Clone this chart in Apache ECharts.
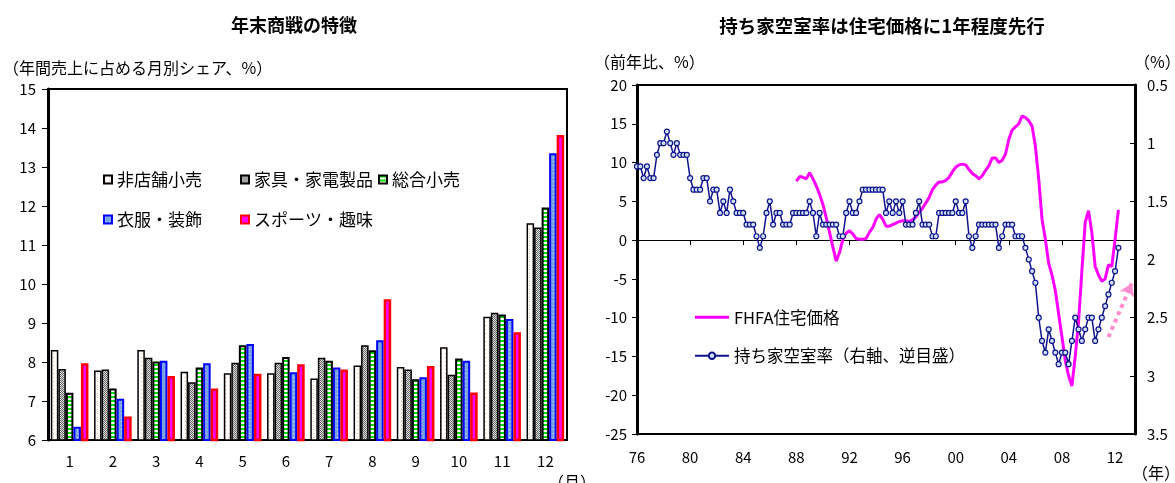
<!DOCTYPE html>
<html>
<head>
<meta charset="utf-8">
<script src="https://cdn.jsdelivr.net/npm/echarts@6/dist/echarts.min.js"></script>
<style>
  html, body { margin: 0; padding: 0; background: #fff; }
  #main { width: 1175px; height: 483px; }
</style>
</head>
<body>
<div id="main"></div>
<script>
// 左：年末商戦の特徴（年間売上に占める月別シェア、%）
var months = ['1', '2', '3', '4', '5', '6', '7', '8', '9', '10', '11', '12']
var nonStore = [8.31, 7.78, 8.31, 7.75, 7.71, 7.71, 7.58, 7.91, 7.87, 8.38, 9.16, 11.56] // 非店舗小売
var furniture = [7.82, 7.81, 8.11, 7.48, 7.98, 7.98, 8.11, 8.43, 7.81, 7.67, 9.26, 11.45] // 家具・家電製品
var general = [7.21, 7.32, 8.01, 7.86, 8.43, 8.13, 8.03, 8.30, 7.56, 8.09, 9.22, 11.96] // 総合小売
var clothing = [6.34, 7.06, 8.03, 7.97, 8.46, 7.74, 7.86, 8.56, 7.61, 8.03, 9.10, 13.35] // 衣服・装飾
var sports = [7.97, 6.60, 7.64, 7.32, 7.70, 7.94, 7.81, 9.61, 7.90, 7.22, 8.76, 13.82] // スポーツ・趣味

// 右：四半期（1976Q1〜）
var firstYear = 1976
var quarterCount = 151
// 持ち家空室率（%、右軸・逆目盛） 1976Q1〜
var vacancy = [
    1.2, 1.2, 1.3, 1.2, 1.3, 1.3, 1.1, 1.0, 1.0, 0.9, 1.0, 1.1, 1.0, 1.1, 1.1, 1.1,
    1.3, 1.4, 1.4, 1.4, 1.3, 1.3, 1.5, 1.4, 1.4, 1.6, 1.5, 1.6, 1.4, 1.5, 1.6, 1.6, 1.6, 1.7, 1.7, 1.7,
    1.8, 1.9, 1.8, 1.6, 1.5, 1.7, 1.6, 1.6, 1.7, 1.7, 1.7,
    1.6, 1.6, 1.6, 1.6, 1.6, 1.5, 1.6, 1.8, 1.6,
    1.7, 1.7, 1.7, 1.7, 1.7, 1.8, 1.8, 1.6, 1.5, 1.6, 1.6, 1.5,
    1.4, 1.4, 1.4, 1.4, 1.4, 1.4, 1.4,
    1.6, 1.5, 1.6, 1.5, 1.6, 1.5,
    1.7, 1.7, 1.7, 1.6, 1.5, 1.7, 1.7, 1.7, 1.8, 1.8,
    1.6, 1.6, 1.6, 1.6, 1.6, 1.5, 1.6, 1.6, 1.5,
    1.8, 1.9, 1.8, 1.7, 1.7, 1.7, 1.7, 1.7, 1.7, 1.9, 1.8,
    1.7, 1.7, 1.7, 1.8, 1.8, 1.8, 1.9, 2.0, 2.1, 2.2,
    2.5, 2.7, 2.8, 2.6, 2.7, 2.8, 2.9, 2.8, 2.8, 2.9,
    2.7, 2.5, 2.6, 2.7, 2.6, 2.5, 2.5, 2.7, 2.6, 2.5,
    2.4, 2.3, 2.2, 2.1, 1.9
]
// FHFA住宅価格（前年比、%） 1988Q1〜
var fhfaStart = 48
var fhfa = [
    7.6, 8.2, 8.1, 7.9, 8.7, 7.9, 7.0, 5.9, 4.6, 2.9, 1.0, -0.9,
    -2.7, -1.6, 0.1, 0.9, 1.2, 0.8, 0.2, 0.1, 0.1, 0.2, 1.0, 1.6,
    2.7, 3.3, 2.7, 1.8, 1.8, 2.0, 2.2, 2.4, 2.5, 2.5, 2.4, 2.6,
    3.0, 3.6, 4.1, 4.8, 5.5, 6.5, 7.1, 7.5, 7.5, 7.7, 8.1, 8.8,
    9.4, 9.7, 9.8, 9.7, 9.1, 8.6, 8.3, 7.9, 8.3, 9.0, 9.6, 10.6,
    10.6, 10.0, 10.3, 11.1, 13.0, 14.2, 14.6, 15.0, 16.0, 15.8, 15.4, 14.7,
    12.1, 7.9, 2.7, 0.1, -3.0, -4.5, -6.5, -9.5, -12.5, -15.5, -17.5, -18.8,
    -15.0, -10.5, -4.0, 2.3, 3.8, 1.0, -3.4, -4.5, -5.3, -5.0, -3.2, -3.4,
    0.1, 3.9
]

var quarters = []
for (var i = 0; i < quarterCount; i++) {
    quarters.push((firstYear + Math.floor(i / 4)) + 'Q' + (i % 4 + 1))
}
var fhfaData = quarters.map(function (q, i) {
    var k = i - fhfaStart
    return k >= 0 && k < fhfa.length ? fhfa[k] : null
})

var jp = '"Noto Sans CJK JP", sans-serif'
var num = '"Liberation Sans Narrow", "Noto Sans CJK JP", sans-serif'

// 棒グラフの模様
function pattern(w, h, draw) {
    var c = document.createElement('canvas')
    c.width = w
    c.height = h
    draw(c.getContext('2d'))
    return { image: c, repeat: 'repeat' }
}
var patNonStore = pattern(4, 4, function (g) {
    g.fillStyle = '#fff'; g.fillRect(0, 0, 4, 4)
    g.fillStyle = '#f4b080'; g.fillRect(1, 1, 1, 1)
})
var patFurniture = pattern(2, 2, function (g) {
    g.fillStyle = '#d8d8d8'; g.fillRect(0, 0, 2, 2)
    g.fillStyle = '#707070'; g.fillRect(0, 0, 1, 1); g.fillRect(1, 1, 1, 1)
})
var patGeneral = pattern(4, 4, function (g) {
    g.fillStyle = '#fff'; g.fillRect(0, 0, 4, 4)
    g.fillStyle = '#00dd00'; g.fillRect(0, 0, 4, 2)
})
var patClothing = pattern(4, 4, function (g) {
    g.fillStyle = '#78a4e0'; g.fillRect(0, 0, 4, 4)
    g.fillStyle = '#c8dcf6'; g.fillRect(1, 1, 1, 1)
})

function bar(name, data, fill, border, bw) {
    return {
        name: name,
        type: 'bar',
        xAxisIndex: 0,
        yAxisIndex: 0,
        data: data,
        barGap: '0%',
        barCategoryGap: '13%',
        itemStyle: { color: fill, borderColor: border, borderWidth: bw }
    }
}

function barLegend(name, left, top) {
    return {
        data: [name],
        left: left,
        top: top,
        padding: 0,
        icon: 'rect',
        itemWidth: 8,
        itemHeight: 8,
        itemGap: 0,
        textStyle: { fontFamily: jp, fontSize: 17, color: '#000' }
    }
}

var chart = echarts.init(document.getElementById('main'))
chart.setOption({
    animation: false,
    grid: [
        { left: 48, top: 89, width: 519, height: 351, show: true, borderColor: '#000', borderWidth: 2 },
        { left: 637, top: 85, width: 498, height: 349, show: true, borderColor: '#000', borderWidth: 2 }
    ],
    legend: [
        barLegend('非店舗小売', 103, 171),
        barLegend('家具・家電製品', 240, 171),
        barLegend('総合小売', 378, 171),
        barLegend('衣服・装飾', 103, 211),
        barLegend('スポーツ・趣味', 240, 211),
        {
            data: [
                { name: 'FHFA住宅価格', icon: 'path://M0 0H34V3H0Z' },
                '持ち家空室率（右軸、逆目盛）'
            ],
            orient: 'vertical',
            left: 694,
            top: 309,
            padding: 0,
            itemGap: 22,
            itemWidth: 34,
            itemHeight: 8,
            textStyle: { fontFamily: jp, fontSize: 16.5, color: '#000' }
        }
    ],
    xAxis: [
        {
            gridIndex: 0,
            type: 'category',
            data: months,
            axisLine: { lineStyle: { color: '#000', width: 2 } },
            axisTick: { length: 5, lineStyle: { color: '#000' } },
            axisLabel: { margin: 14, fontFamily: num, fontSize: 15, color: '#000' }
        },
        {
            gridIndex: 1,
            type: 'category',
            data: quarters,
            boundaryGap: false,
            position: 'bottom',
            axisLine: { onZero: false, lineStyle: { color: '#000', width: 2 } },
            axisTick: { show: false },
            axisLabel: {
                interval: 15,
                margin: 16,
                fontFamily: num,
                fontSize: 15,
                color: '#000',
                formatter: function (v) { return v.slice(2, 4) }
            }
        },
        {
            gridIndex: 1,
            type: 'category',
            data: quarters,
            boundaryGap: false,
            position: 'top',
            axisLine: { onZero: true, onZeroAxisIndex: 1, lineStyle: { color: '#000', width: 1 } },
            axisTick: { inside: true, interval: 15, length: 5, lineStyle: { color: '#000' } },
            axisLabel: { show: false }
        }
    ],
    yAxis: [
        {
            gridIndex: 0,
            type: 'value',
            min: 6,
            max: 15,
            interval: 1,
            splitLine: { show: false },
            axisLine: { show: true, lineStyle: { color: '#000', width: 3 } },
            axisTick: { show: true, length: 6, lineStyle: { color: '#000' } },
            axisLabel: { margin: 12, fontFamily: num, fontSize: 15, color: '#000' }
        },
        {
            gridIndex: 1,
            type: 'value',
            min: -25,
            max: 20,
            interval: 5,
            splitLine: { show: false },
            axisLine: { show: true, onZero: false, lineStyle: { color: '#000', width: 3 } },
            axisTick: { show: true, length: 5, lineStyle: { color: '#000' } },
            axisLabel: { margin: 10, fontFamily: num, fontSize: 15, color: '#000' }
        },
        {
            gridIndex: 1,
            type: 'value',
            position: 'right',
            inverse: true,
            min: 0.5,
            max: 3.5,
            interval: 0.5,
            splitLine: { show: false },
            axisLine: { show: true, onZero: false, lineStyle: { color: '#000', width: 3 } },
            axisTick: { show: true, inside: true, length: 5, lineStyle: { color: '#000' } },
            axisLabel: { margin: 12, fontFamily: num, fontSize: 15, color: '#000' }
        }
    ],
    series: [
        bar('非店舗小売', nonStore, patNonStore, '#000', 1.5),
        bar('家具・家電製品', furniture, patFurniture, '#000', 1.5),
        bar('総合小売', general, patGeneral, '#000', 2),
        bar('衣服・装飾', clothing, patClothing, '#0000ff', 2),
        bar('スポーツ・趣味', sports, '#ff00ff', '#ff0000', 2.5),
        {
            name: 'FHFA住宅価格',
            type: 'line',
            xAxisIndex: 1,
            yAxisIndex: 1,
            data: fhfaData,
            symbol: 'none',
            lineStyle: { color: '#ff00ff', width: 3 },
            itemStyle: { color: '#ff00ff' },
            markLine: {
                silent: true,
                symbol: ['none', 'arrow'],
                symbolSize: 12,
                label: { show: false },
                lineStyle: { color: '#ff8ccf', width: 4, type: 'dotted' },
                data: [[{ coord: ['2011Q3', -12.5] }, { coord: ['2013Q2', -5.6] }]]
            }
        },
        {
            name: '持ち家空室率（右軸、逆目盛）',
            type: 'line',
            xAxisIndex: 1,
            yAxisIndex: 2,
            data: vacancy,
            symbol: 'circle',
            symbolSize: 5,
            showAllSymbol: true,
            lineStyle: { color: '#10148c', width: 1.5 },
            itemStyle: { color: '#cfe0f8', borderColor: '#10148c', borderWidth: 1.2 }
        }
    ],
    graphic: [
        { type: 'text', x: 294, y: 25, style: { text: '年末商戦の特徴', font: 'bold 18px ' + jp, fill: '#000', align: 'center', verticalAlign: 'middle' } },
        { type: 'text', x: 882, y: 26, style: { text: '持ち家空室率は住宅価格に1年程度先行', font: 'bold 18.5px ' + jp, fill: '#000', align: 'center', verticalAlign: 'middle' } },
        { type: 'text', x: 3, y: 68, style: { text: '（年間売上に占める月別シェア、%）', font: '16px ' + jp, fill: '#000', verticalAlign: 'middle' } },
        { type: 'text', x: 594, y: 62, style: { text: '（前年比、%）', font: '16px ' + jp, fill: '#000', verticalAlign: 'middle' } },
        { type: 'text', x: 1134, y: 62, style: { text: '（%）', font: '16px ' + jp, fill: '#000', verticalAlign: 'middle' } },
        { type: 'text', x: 548, y: 482, style: { text: '（月）', font: '16px ' + jp, fill: '#000', verticalAlign: 'middle' } },
        { type: 'text', x: 1132, y: 473, style: { text: '（年）', font: '16px ' + jp, fill: '#000', verticalAlign: 'middle' } }
    ]
})
</script>
</body>
</html>
